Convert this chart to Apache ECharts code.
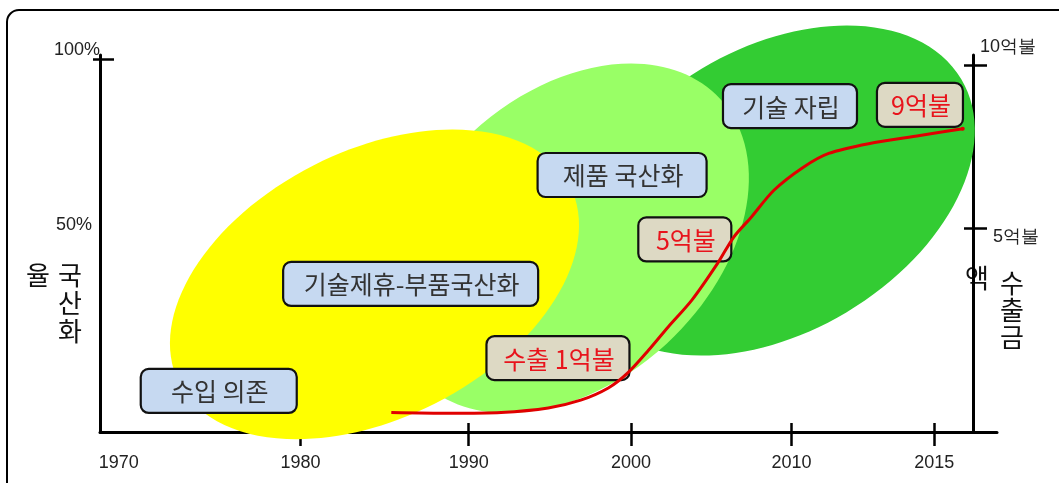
<!DOCTYPE html>
<html>
<head>
<meta charset="utf-8">
<script src="https://cdn.jsdelivr.net/npm/echarts@6/dist/echarts.min.js"></script>
<style>
    html, body { margin: 0; padding: 0; background: #fff; }
    #main { width: 1059px; height: 483px; }
</style>
</head>
<body>
<div id="main"></div>
<script>
// 시간축: 눈금 연도와 축 위의 자리(0~100, 그림의 축은 등간격이 아님)
const yearLabels = ['1970', '1980', '1990', '2000', '2010', '2015'];
const yearStops = [1970, 1980, 1990, 2000, 2010, 2015];
const yearAt = [2.1, 22.35, 41.1, 59.2, 77.1, 93.0];

// 왼쪽 축: 국산화율 (%)
const pctStops = [0, 50, 100];
const pctAt = [0, 55.0, 98.9];

// 오른쪽 축: 수출금액 (억불)
const eokStops = [0, 5, 10];
const eokAt = [0, 54.1, 97.3];
const eokLabels = ['0', '5억불', '10억불'];

// 수출금액 곡선
const exportYear = [1985.4, 1988.9, 1992.0, 1994.9, 1996.9, 1998.6, 1999.8, 2001.1, 2002.3, 2003.8,
    2005.4, 2006.4, 2007.5, 2008.9, 2010.4, 2011.3, 2012.7, 2014.5, 2016.0];
const exportEok = [0.48, 0.46, 0.48, 0.59, 0.78, 1.08, 1.45, 2.01, 2.57, 3.24,
    4.14, 4.78, 5.34, 6.16, 6.86, 7.29, 7.59, 7.84, 8.05];

// 단계 (파란 상자)
const stageNames = ['수입 의존', '기술제휴-부품국산화', '제품 국산화', '기술 자립'];
const stageYear = [1975.5, 1986.55, 1999.45, 2009.9];
const stagePct = [9.9, 35.7, 65.0, 85.8];

// 수출 이정표 (베이지 상자)
const milestoneNames = ['수출 1억불', '5억불', '9억불'];
const milestoneYear = [1995.5, 2003.35, 2014.5];
const milestoneEok = [1.81, 4.72, 8.78];

// 단계 영역 (타원) 중심
const regionYear = [1984.4, 1996.2, 2008.9];
const regionPct = [35.6, 46.7, 60.3];

function mapTo(v, stops, at) {
    let i = 1;
    while (i < stops.length - 1 && v > stops[i]) i++;
    const t = (v - stops[i - 1]) / (stops[i] - stops[i - 1]);
    return at[i - 1] + t * (at[i] - at[i - 1]);
}
function nearest(v, at) {
    let best = 0;
    at.forEach(function (a, i) { if (Math.abs(a - v) < Math.abs(at[best] - v)) best = i; });
    return best;
}

let myChart = echarts.init(document.getElementById('main'));

// 타원 모양: [반장축, 반단축 (x축 단위), 기울기(도)], 색
const regionShape = [[24.4, 14.9, 26.75], [22.9, 16.0, 42.7], [24.3, 15.8, 30.7]];
const regionColor = ['#ffff00', '#99ff66', '#33cc33'];
const stageBoxW = [156, 255, 169, 134];
const milestoneBoxW = [143, 93, 86];

let regionData = [];
for (let i = regionYear.length - 1; i >= 0; i--) {
    regionData.push([mapTo(regionYear[i], yearStops, yearAt), mapTo(regionPct[i], pctStops, pctAt),
        regionShape[i][0], regionShape[i][1], regionShape[i][2], i]);
}
let stageData = stageNames.map(function (n, i) {
    return [mapTo(stageYear[i], yearStops, yearAt), mapTo(stagePct[i], pctStops, pctAt), i];
});
let milestoneData = milestoneNames.map(function (n, i) {
    return [mapTo(milestoneYear[i], yearStops, yearAt), mapTo(milestoneEok[i], eokStops, eokAt), i];
});
let curveData = exportYear.map(function (y, i) {
    return [mapTo(y, yearStops, yearAt), mapTo(exportEok[i], eokStops, eokAt)];
});

function boxRenderer(names, widths, fill, color) {
    return function (params, api) {
        const c = api.coord([api.value(0), api.value(1)]);
        const i = api.value(2);
        const w = widths[i];
        return {
            type: 'group',
            x: c[0],
            y: c[1],
            children: [
                {
                    type: 'rect',
                    shape: { x: -w / 2, y: -22, width: w, height: 44, r: 8 },
                    style: { fill: fill, stroke: '#111', lineWidth: 2.2 }
                },
                {
                    type: 'text',
                    style: {
                        text: names[i], x: 1, y: 1, align: 'center', verticalAlign: 'middle',
                        fill: color, fontSize: 25, fontFamily: '"Noto Sans CJK KR"'
                    }
                }
            ]
        };
    };
}

const tickLine = { color: '#000', width: 2.5 };
const tickFont = { fontSize: 18, color: '#222', fontFamily: 'Liberation Sans' };

let option = {
    animation: false,
    grid: { left: 100, right: 62, top: 55, bottom: 51, containLabel: false, outerBoundsMode: 'none' },
    xAxis: [
        {
            type: 'value', min: 0, max: 100, position: 'bottom',
            splitLine: { show: false },
            axisLine: { show: true, onZero: false, lineStyle: { color: '#000', width: 3 } },
            axisTick: { show: true, inside: true, length: 9, customValues: yearAt.slice(1), lineStyle: tickLine },
            axisLabel: Object.assign({
                show: true, customValues: yearAt, margin: 22,
                formatter: function (v) { return yearLabels[nearest(v, yearAt)]; }
            }, tickFont)
        },
        {
            type: 'value', min: 0, max: 100, position: 'bottom',
            splitLine: { show: false },
            axisLine: { show: false, onZero: false },
            axisTick: { show: true, inside: false, length: 14, customValues: yearAt.slice(1), lineStyle: tickLine },
            axisLabel: { show: false }
        }
    ],
    yAxis: [
        {
            type: 'value', min: 0, max: 100, position: 'left',
            splitLine: { show: false },
            axisLine: { show: true, onZero: false, lineStyle: { color: '#000', width: 3 } },
            axisTick: { show: true, inside: true, length: 14, customValues: [pctAt[2]], lineStyle: tickLine },
            axisLabel: Object.assign({
                show: true, customValues: [pctAt[1]], margin: 8,
                formatter: function (v) { return pctStops[nearest(v, pctAt)] + '%'; }
            }, tickFont)
        },
        {
            type: 'value', min: 0, max: 100, position: 'left',
            splitLine: { show: false },
            axisLine: { show: false, onZero: false },
            axisTick: { show: true, inside: false, length: 7, customValues: [pctAt[2]], lineStyle: tickLine },
            axisLabel: Object.assign({
                show: true, customValues: [pctAt[2]], margin: 0, verticalAlign: 'bottom',
                formatter: function (v) { return pctStops[nearest(v, pctAt)] + '%'; }
            }, tickFont)
        },
        {
            type: 'value', min: 0, max: 100, position: 'right', offset: -24,
            splitLine: { show: false },
            axisLine: { show: true, onZero: false, lineStyle: { color: '#000', width: 3 } },
            axisTick: { show: true, inside: true, length: 9, customValues: eokAt.slice(1), lineStyle: tickLine },
            axisLabel: Object.assign({
                show: true, customValues: [eokAt[1]], margin: 20, verticalAlign: 'top',
                formatter: function (v) { return eokLabels[nearest(v, eokAt)]; }
            }, tickFont)
        },
        {
            type: 'value', min: 0, max: 100, position: 'right', offset: -24,
            splitLine: { show: false },
            axisLine: { show: false, onZero: false },
            axisTick: { show: true, inside: false, length: 14, customValues: eokAt.slice(1), lineStyle: tickLine },
            axisLabel: Object.assign({
                show: true, customValues: [eokAt[2]], margin: 7, verticalAlign: 'bottom', padding: [0, 0, 9, 0],
                formatter: function (v) { return eokLabels[nearest(v, eokAt)]; }
            }, tickFont)
        }
    ],
    graphic: [
        {
            type: 'rect', silent: true, z: -10,
            shape: { x: 7, y: 10, width: 1120, height: 520, r: 12 },
            style: { fill: 'none', stroke: '#000', lineWidth: 2 }
        },
        {
            type: 'text', x: 70, y: 261,
            style: { text: '국\n산\n화', align: 'center', verticalAlign: 'top', fontSize: 26, lineHeight: 28,
                fill: '#111', fontFamily: '"Noto Sans CJK KR"' }
        },
        {
            type: 'text', x: 38, y: 261,
            style: { text: '율', align: 'center', verticalAlign: 'top', fontSize: 26, lineHeight: 28,
                fill: '#111', fontFamily: '"Noto Sans CJK KR"' }
        },
        {
            type: 'text', x: 1012, y: 270,
            style: { text: '수\n출\n금', align: 'center', verticalAlign: 'top', fontSize: 26, lineHeight: 27,
                fill: '#111', fontFamily: '"Noto Sans CJK KR"' }
        },
        {
            type: 'text', x: 977, y: 265,
            style: { text: '액', align: 'center', verticalAlign: 'top', fontSize: 26, lineHeight: 27,
                fill: '#111', fontFamily: '"Noto Sans CJK KR"' }
        }
    ],
    series: [
        {
            name: 'regions', type: 'custom', xAxisIndex: 0, yAxisIndex: 0, z: 1,
            silent: true,
            data: regionData,
            renderItem: function (params, api) {
                const c = api.coord([api.value(0), api.value(1)]);
                const rx = api.size([api.value(2), 0])[0];
                const ry = api.size([api.value(3), 0])[0];
                return {
                    type: 'ellipse',
                    x: c[0], y: c[1],
                    rotation: api.value(4) * Math.PI / 180,
                    shape: { cx: 0, cy: 0, rx: rx, ry: ry },
                    style: { fill: regionColor[api.value(5)] }
                };
            }
        },
        {
            name: 'stages', type: 'custom', xAxisIndex: 0, yAxisIndex: 0, z: 3,
            silent: true,
            data: stageData,
            renderItem: boxRenderer(stageNames, stageBoxW, '#c6d9f1', '#333')
        },
        {
            name: 'milestones', type: 'custom', xAxisIndex: 0, yAxisIndex: 2, z: 3,
            silent: true,
            data: milestoneData,
            renderItem: boxRenderer(milestoneNames, milestoneBoxW, '#ddd9c4', '#e8141c')
        },
        {
            name: '수출금액', type: 'line', xAxisIndex: 0, yAxisIndex: 2, z: 4,
            data: curveData,
            smooth: 0.3,
            symbol: 'circle',
            showSymbol: true,
            symbolSize: function (v, p) { return p.dataIndex === curveData.length - 1 ? 4 : 0; },
            itemStyle: { color: '#e00000' },
            lineStyle: { color: '#e00000', width: 3 }
        }
    ]
};

myChart.setOption(option);
</script>
</body>
</html>
